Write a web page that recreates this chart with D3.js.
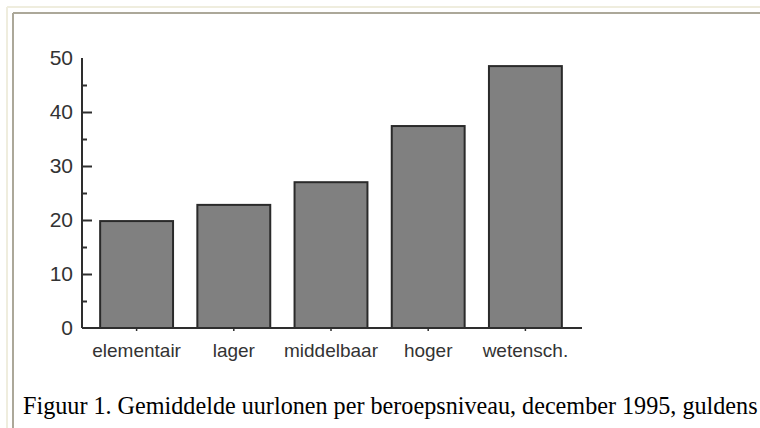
<!DOCTYPE html>
<html>
<head>
<meta charset="utf-8">
<script src="https://cdn.jsdelivr.net/npm/d3@7/dist/d3.min.js"></script>
<style>
  html, body { margin: 0; padding: 0; background: #fff; }
  svg { display: block; }
</style>
</head>
<body>
<svg id="chart" width="760" height="428"></svg>
<script>
const categories = ["elementair", "lager", "middelbaar", "hoger", "wetensch."];
const values = [19.8, 22.8, 27.0, 37.4, 48.5];
const majorTicks = [0, 10, 20, 30, 40, 50];
const minorTicks = [5, 15, 25, 35, 45];
const caption = "Figuur 1. Gemiddelde uurlonen per beroepsniveau, december 1995, guldens";

const svg = d3.select("#chart");

// window frame
svg.append("line").attr("x1", 7).attr("y1", 7).attr("x2", 760).attr("y2", 7)
  .attr("stroke", "#efedde").attr("stroke-width", 2);
svg.append("line").attr("x1", 7).attr("y1", 7).attr("x2", 7).attr("y2", 428)
  .attr("stroke", "#efedde").attr("stroke-width", 2);
svg.append("line").attr("x1", 13).attr("y1", 13).attr("x2", 760).attr("y2", 13)
  .attr("stroke", "#aca899").attr("stroke-width", 2);
svg.append("line").attr("x1", 13).attr("y1", 13).attr("x2", 13).attr("y2", 428)
  .attr("stroke", "#aca899").attr("stroke-width", 2);

const x = d3.scaleBand().domain(categories).range([88, 574])
  .paddingInner(0.25).paddingOuter(0.125);
const y = d3.scaleLinear().domain([0, 50]).range([328, 58]);

const axisColor = "#2e2e2e";
const textColor = "#333";

// bars
svg.append("g").selectAll("rect").data(values).join("rect")
  .attr("x", (d, i) => x(categories[i]))
  .attr("y", d => y(d))
  .attr("width", x.bandwidth())
  .attr("height", d => y(0) - y(d))
  .attr("fill", "#808080")
  .attr("stroke", "#2a2a2a")
  .attr("stroke-width", 2);

// y axis major ticks (inward)
const yAxis = d3.axisLeft(y).tickValues(majorTicks).tickSize(-10).tickPadding(9)
  .tickFormat(d3.format("d"));
const gy = svg.append("g").attr("transform", "translate(82,0)").call(yAxis);
gy.select(".domain").attr("stroke", axisColor).attr("stroke-width", 2)
  .attr("d", `M0,${y(50)}V${y(0)}`);
gy.selectAll(".tick line").attr("stroke", axisColor).attr("stroke-width", 2)
  .filter(d => d === 50 || d === 0).remove();
gy.selectAll(".tick text")
  .attr("font-family", "'Liberation Sans', Arial, sans-serif")
  .attr("font-size", 21).attr("fill", textColor);

// y minor ticks
const yMinor = d3.axisLeft(y).tickValues(minorTicks).tickSize(-5).tickFormat("");
const gym = svg.append("g").attr("transform", "translate(82,0)").call(yMinor);
gym.select(".domain").remove();
gym.selectAll(".tick line").attr("stroke", axisColor).attr("stroke-width", 2);

// x axis
const xAxis = d3.axisBottom(x).tickSize(3).tickPadding(13);
const gx = svg.append("g").attr("transform", `translate(0,${y(0)})`).call(xAxis);
gx.select(".domain").attr("stroke", axisColor).attr("stroke-width", 2)
  .attr("d", "M82,0H582");
gx.selectAll(".tick line").attr("stroke", axisColor).attr("stroke-width", 1.5);
gx.selectAll(".tick text")
  .attr("font-family", "'Liberation Sans', Arial, sans-serif")
  .attr("font-size", 19).attr("fill", textColor);

// caption
const cap = svg.append("text").attr("x", 23).attr("y", 414)
  .attr("font-family", "'Liberation Serif', 'Times New Roman', serif")
  .attr("font-size", 24).attr("fill", "#000").text(caption);
const w = cap.node().getComputedTextLength();
cap.attr("font-size", 24 * 735 / w);
</script>
</body>
</html>
